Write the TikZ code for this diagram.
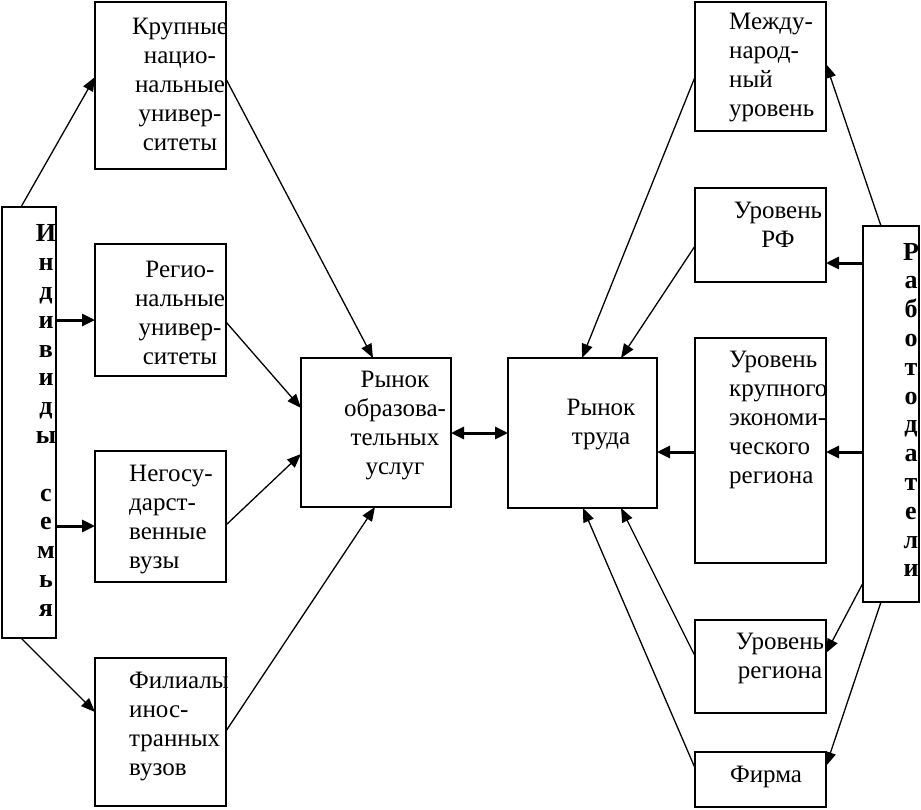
\documentclass[tikz,border=0pt]{standalone}
\usepackage{fontspec}
\setmainfont{Liberation Serif}
\usetikzlibrary{arrows.meta,calc}
\begin{document}
\begin{tikzpicture}[x=1pt,y=-1pt,
  box/.style={draw,line width=1.8pt,rectangle,inner sep=0pt,outer sep=0pt},
  txt/.style={inner sep=0pt,font=\fontsize{25}{29}\selectfont},
  vtxt/.style={inner sep=0pt,align=center,font=\fontsize{26}{28.8}\selectfont\bfseries},
  arr/.style={line width=1.3pt,-{Triangle[length=14pt,width=11pt]}},
  harr/.style={line width=3pt,-{Triangle[length=13pt,width=12pt]}},
  darr/.style={line width=3pt,{Triangle[length=13pt,width=12pt]}-{Triangle[length=13pt,width=12pt]}}]
\useasboundingbox (0,0) rectangle (921,809);
% boxes
\node[box,minimum width=54pt,minimum height=431pt] (L) at (29,422.5) {};
\node[box,minimum width=131pt,minimum height=167pt] (B1) at (160.5,85.5) {};
\node[box,minimum width=131pt,minimum height=132pt] (B2) at (160.5,310) {};
\node[box,minimum width=131pt,minimum height=131pt] (B3) at (160.5,516.5) {};
\node[box,minimum width=131pt,minimum height=148pt] (B4) at (160.5,732) {};
\node[box,minimum width=150pt,minimum height=149pt] (C1) at (376,432.5) {};
\node[box,minimum width=149pt,minimum height=150pt] (C2) at (582.5,433) {};
\node[box,minimum width=131pt,minimum height=129pt] (R1) at (760.5,66.5) {};
\node[box,minimum width=131pt,minimum height=94pt] (R2) at (760.5,235) {};
\node[box,minimum width=131pt,minimum height=225pt] (R3) at (760.5,450.5) {};
\node[box,minimum width=131pt,minimum height=93pt] (R4) at (760.5,666.5) {};
\node[box,minimum width=131pt,minimum height=55pt] (R5) at (760.5,779.5) {};
\node[box,minimum width=56pt,minimum height=376pt] (RT) at (891,414) {};
% texts
\node[vtxt] (tL) at (46,420.5) {И\\н\\д\\и\\в\\и\\д\\ы\\\mbox{}\\с\\е\\м\\ь\\я};
\node[vtxt] (tRT) at (911,410) {Р\\а\\б\\о\\т\\о\\д\\а\\т\\е\\л\\и};
\node[txt,align=center] (t1) at (180,84) {Крупные\\нацио-\\нальные\\универ-\\ситеты};
\node[txt,align=center] (t2) at (180,313) {Регио-\\нальные\\универ-\\ситеты};
\node[txt,align=left,anchor=west] (t3) at (129,520) {Негосу-\\дарст-\\венные\\вузы};
\node[txt,align=left,anchor=west] (t4) at (129,727) {Филиалы\\инос-\\транных\\вузов};
\node[txt,align=center] (tc1) at (395,426) {Рынок\\образова-\\тельных\\услуг};
\node[txt,align=center] (tc2) at (601,425) {Рынок\\труда};
\node[txt,align=left,anchor=west] (tr1) at (729,68) {Между-\\народ-\\ный\\уровень};
\node[txt,align=center] (tr2) at (778,225) {Уровень\\РФ};
\node[txt,align=left,anchor=west] (tr3) at (729,420) {Уровень\\крупного\\экономи-\\ческого\\региона};
\node[txt,align=center] (tr4) at (780,658) {Уровень\\региона};
\node[txt,align=center] (tr5) at (766,777) {Фирма};
% left arrows
\draw[arr] ($(L.north west)+(19,0)$) -- ($(B1.north west)+(0,75)$);
\draw[harr] ($(L.north east)+(0,113)$) -- ($(B2.north west)+(0,76)$);
\draw[harr] ($(L.north east)+(0,319)$) -- ($(B3.north west)+(0,75)$);
\draw[arr] ($(L.south west)+(19,0)$) -- ($(B4.north west)+(0,54)$);
\draw[arr] ($(B1.north east)+(0,77)$) -- ($(C1.north west)+(72,0)$);
\draw[arr] ($(B2.north east)+(0,78)$) -- ($(C1.north west)+(0,50)$);
\draw[arr] ($(B3.north east)+(0,74)$) -- ($(C1.north west)+(0,96)$);
\draw[arr] ($(B4.north east)+(0,73)$) -- ($(C1.south west)+(74,0)$);
% middle
\draw[darr] ($(C1.north east)+(0,75)$) -- ($(C2.north west)+(0,75)$);
% right arrows
\draw[arr] ($(R1.north west)+(0,75)$) -- ($(C2.north west)+(74,0)$);
\draw[arr] ($(R2.north west)+(0,58)$) -- ($(C2.north west)+(113,0)$);
\draw[harr] ($(R3.north west)+(0,114)$) -- ($(C2.north east)+(0,94)$);
\draw[arr] ($(R4.north west)+(0,36)$) -- ($(C2.south west)+(113,0)$);
\draw[arr] ($(R5.north west)+(0,16)$) -- ($(C2.south west)+(75,0)$);
\draw[arr] ($(RT.north west)+(18,0)$) -- ($(R1.north east)+(0,62)$);
\draw[harr] ($(RT.north west)+(0,37)$) -- ($(R2.north east)+(0,75)$);
\draw[harr] ($(RT.north west)+(0,226)$) -- ($(R3.north east)+(0,114)$);
\draw[arr] ($(RT.north west)+(0,357)$) -- ($(R4.north east)+(0,33)$);
\draw[arr] ($(RT.south west)+(18,0)$) -- ($(R5.north east)+(0,14)$);
\end{tikzpicture}
\end{document}
